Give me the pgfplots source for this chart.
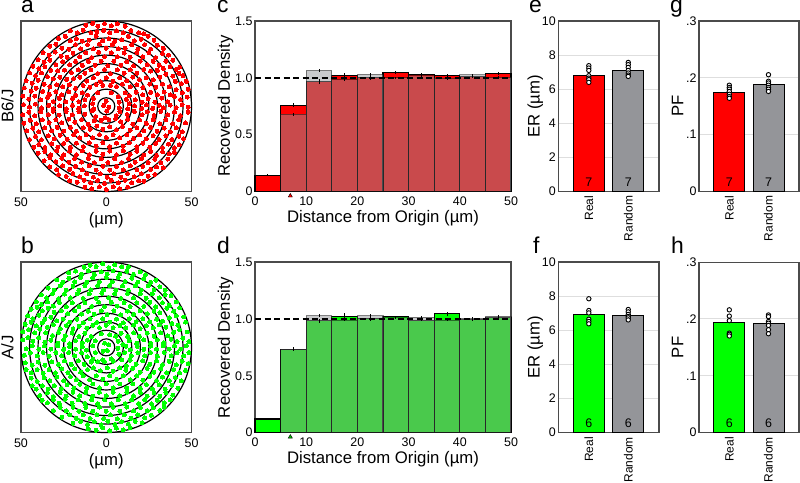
\documentclass[border=0pt]{standalone}
\usepackage{pgfplots}
\pgfplotsset{compat=1.18}
\usepackage{fontspec}
\setmainfont{Liberation Sans}
\definecolor{axgray}{RGB}{75,75,75}
\definecolor{bargray}{RGB}{148,149,153}
\definecolor{puregreen}{RGB}{0,255,0}
\definecolor{gridgray}{RGB}{222,222,222}
\pgfplotsset{
  base/.style={scale only axis, anchor=south west,
    axis line style={axgray,line width=1.2bp},
    major tick length=0pt,
    tick label style={font=\fontsize{12.5}{12.5}\selectfont,text=black},
    /pgf/number format/assume math mode=true,
    label style={font=\fontsize{16.8}{16.8}\selectfont},
  },
  disc/.style={base,width=170.5bp,height=170.5bp,xmin=-50,xmax=50,ymin=-50,ymax=50,
    xtick={-50,0,50},xticklabels={50,0,50},ytick=\empty,
    xticklabel style={yshift=-2.5bp},
    xlabel={(µm)},xlabel style={yshift=1bp},
    ylabel style={yshift=4bp},clip=false,clip mode=global},
  hist/.style={base,width=256bp,height=170.5bp,xmin=0,xmax=50,ymin=0,ymax=1.5,
    xtick={0,10,20,30,40,50},ytick={0,0.5,1,1.5},yticklabels={0,0.5,1.0,1.5},
    xticklabel style={yshift=-1.5bp},yticklabel style={xshift=1bp},
    xlabel={Distance from Origin (µm)},xlabel style={yshift=1.5bp},
    ylabel={Recovered Density},ylabel style={yshift=-5bp},clip=false},
  bars/.style={base,height=170.5bp,xmin=0.226,xmax=2.78,
    xtick={1,2},xticklabels={Real,Random},
    xticklabel style={font=\fontsize{12}{12}\selectfont,rotate=90,anchor=east,yshift=0bp,xshift=-1bp},
    ymajorgrids,grid style={gridgray,line width=1bp},
    yticklabel style={xshift=1bp},clip=false},
  er/.style={bars,width=100.7bp,ymin=0,ymax=10,ytick={0,2,4,6,8,10},ylabel={ER (µm)},ylabel style={yshift=-8bp}},
  pf/.style={bars,width=100bp,ymin=0,ymax=0.3,ytick={0,0.1,0.2,0.3},yticklabels={0,.1,.2,.3},ylabel={PF},ylabel style={yshift=-4bp}},
  bar/.style={ybar,bar width=31bp,bar shift=0pt,draw=black,line width=0.9bp,fill=#1},
  pts/.style={black,only marks,mark=*,mark size=2.2pt,mark options={solid,draw=black,fill=white,line width=0.9bp}},
  dots/.style={#1,only marks,mark=*,mark size=2.0pt,mark options={solid,draw=#1,fill=#1,line width=0pt}},
  grey/.style={ybar interval,fill=bargray,fill opacity=0.5,draw=black,draw opacity=0.45,line width=1bp},
  err/.style={draw=none,no marks,error bars/.cd,y dir=both,y explicit,error mark=none,
    error bar style={draw=black,solid,line width=0.7bp}},
}
\newcommand{\rings}{%
  \draw[black,line width=1.2bp] (axis cs:0,0) circle[radius=5];
  \draw[black,line width=1.2bp] (axis cs:0,0) circle[radius=10];
  \draw[black,line width=1.2bp] (axis cs:0,0) circle[radius=15];
  \draw[black,line width=1.2bp] (axis cs:0,0) circle[radius=20];
  \draw[black,line width=1.2bp] (axis cs:0,0) circle[radius=25];
  \draw[black,line width=1.2bp] (axis cs:0,0) circle[radius=30];
  \draw[black,line width=1.2bp] (axis cs:0,0) circle[radius=35];
  \draw[black,line width=1.2bp] (axis cs:0,0) circle[radius=40];
  \draw[black,line width=1.2bp] (axis cs:0,0) circle[radius=45];
  \draw[black,line width=1.2bp] (axis cs:0,0) circle[radius=50];
}
\newcommand{\panel}[2]{\node[anchor=base west,inner sep=0pt,font=\fontsize{23}{23}\selectfont] at (#1) {#2};}
\begin{document}
\begin{tikzpicture}
\path[use as bounding box] (0,0) rectangle (800bp,483bp);
% ---------- a
\begin{axis}[disc,at={(21bp,291.5bp)},ylabel={B6/J}]
\addplot[dots=red] coordinates {
(0,3)(-1.5,0.5)(1.6,-0.6)(0.2,-2.8)
(-12,47.5)(-8,48.6)(-5,46.9)(-1,48.5)(3,47.2)(6.5,48.4)(11,47)
(-21,44.3)(-17,43)(-13.5,44.6)(-9,43.2)(-5.5,43.8)(-1.5,44.5)(2,43)(6,44.2)(10,43.1)(14.5,44.4)(19,43.2)(22,42.5)
(-28,39.8)(-24,41)(-21,38.4)(-17.5,39.6)(-14,38.2)(-10,38.8)(-6,41)(-2,38.3)(1.5,39.7)(5,38.1)(9,38.9)(13,41)(16.5,38.5)(20.5,39.3)(24.5,41)(28,38.7)
(-33,35.3)(-29.5,36.4)(-26,34)(-22,33.5)(-18,36.2)(-15,33.6)(-11,36.1)(-7.5,33.7)(-4,36.4)(0,34)(3.5,36.2)(7,33.6)(11,34.1)(15,36)(18.5,33.4)(22.5,36.2)(26,33.5)(30,35.8)(33.5,34)
(-37,31.5)(-33.5,30)(-30,31.8)(-26.5,29.4)(-23,28.8)(-19.5,31.2)(-15.5,29)(-12,31.3)(-8.5,28.6)(-4.5,31.6)(-1,29.2)(3,31.4)(6.5,28.9)(10.5,31.2)(14,28.7)(18,31.4)(21.5,29)(25,31.5)(29,28.6)(33,31)(36.5,30)
(-40,27.3)(-36.5,25.8)(-33,27.1)(-29.5,24.4)(-25.5,26.2)(-21.5,24.2)(-18,26.3)(-14,24)(-10.5,26.3)(-6.5,24)(-3,26.4)(1,23.8)(4.5,26.4)(8.5,24.1)(12,26.2)(16,23.7)(20,26.5)(24,24.2)(27.5,26.3)(31,24)(35,26.4)(39,27)
(-43,23.4)(-39.5,22)(-36,23.2)(-32.5,21)(-28.5,20.7)(-24.5,21.2)(-20.5,19.8)(-16.5,21.3)(-12.5,19.4)(-9,21.5)(-5,19.2)(-1,21.6)(2.5,19.2)(6.5,21.4)(10.5,19.3)(14,21.4)(18,19.4)(22,21.6)(26,20.6)(30,21.1)(33.5,22.2)(37.5,23.3)(41,21.6)(43,23)
(-45,19.6)(-41.5,18)(-38,19.5)(-34.5,17.4)(-31,16.2)(-27.2,17)(-23.2,15.8)(-19.2,16.2)(-15.5,17)(-11.5,14.8)(-7.5,16.7)(-3.5,14.5)(0,16.8)(4,14.6)(8,16.7)(12,14.9)(15.5,17.1)(19.5,15.7)(23.5,16.8)(27.5,15.5)(31.5,17)(35,18.8)(39,17.7)(42.5,19.4)(45,18)
(-47,15)(-43.5,13.5)(-40,15.2)(-36.5,13)(-33,11.4)(-29,12.5)(-25.4,11.3)(-21.7,12.6)(-18,10.5)(-13.5,12.2)(-9.6,11.2)(-6,12.8)(-2,12.2)(2.5,12.3)(6,11.6)(9.5,13)(14,11.4)(18,12.6)(21.5,11)(25.5,13)(29,11.2)(33,13)(37,11.5)(40.5,14.6)(44,13.3)(47,14.6)
(-48,10.7)(-44,8.8)(-41,10.6)(-37.3,8.7)(-33.4,7)(-29.5,8.6)(-26,6.6)(-22,8.4)(-18,6.4)(-14,8)(-11,6.5)(-7.5,4.7)(-5,8)(3,8)(7,5.5)(11,7.9)(13.5,6.2)(17.5,8.3)(21.5,6.6)(26,8.2)(30,6.7)(34,8.3)(37.5,6.7)(41,9.8)(44.5,7.8)(48,10)
(-49,6)(-45.5,4.2)(-42,6)(-38.5,3.7)(-34.5,5.2)(-31,2.8)(-27.5,4.6)(-23.7,2.5)(-19.8,4.6)(-16,2.6)(-12.5,3.8)(-8,1.6)(7.6,2.4)(11.8,4)(13.4,1.5)(17,3.8)(21,2.4)(24.5,4.4)(28.5,2.4)(32.5,4.8)(36,2.7)(40,5.8)(43.5,3.9)(47.5,5.4)
(-48.5,1)(-45,-0.5)(-41.5,1.2)(-38,-1)(-33.8,0.5)(-31,-1.6)(-27.3,0.2)(-23.5,-1.5)(-19.8,0.6)(-16.2,-1.2)(-12.8,0.2)(-7.4,-1.5)(7.5,-1)(12.6,-1.6)(16.6,0.3)(20.8,-1.3)(23.6,0.8)(27.2,-1.2)(31.2,0.6)(33.6,-1)(37.5,0.7)(41,-0.8)(44.5,1)(48,-0.5)
(-49,-5)(-45.5,-3.5)(-42,-5.5)(-38.5,-3.2)(-34,-5)(-31.2,-3)(-27.5,-5.2)(-23.5,-3)(-20,-5)(-16,-3.2)(-12.6,-4.7)(-8.2,-2.6)(-6.2,-6)(-0.5,-6.8)(5.8,-5.5)(8,-3.2)(12.2,-4.8)(16.5,-3)(21,-5)(24,-3.2)(28,-5.4)(32,-3)(36,-5)(40,-3.4)(43.5,-5.4)(48,-3.5)
(-48.3,-10)(-44.5,-8.2)(-41,-10.4)(-37.5,-8)(-33.5,-9.6)(-29.5,-8)(-26,-9.8)(-22,-7.5)(-18.5,-9.4)(-14.5,-7.8)(-10.5,-10.6)(-7,-8.6)(-3,-8.3)(1.5,-7.8)(5.5,-7.2)(8.5,-9)(12.5,-7.6)(15.5,-10.5)(19.5,-8)(23.5,-10)(27.5,-8)(31.5,-10.2)(35,-7.8)(39,-10.2)(42.5,-8)(46.5,-9.8)
(-46.5,-14.5)(-43,-12.8)(-39.5,-15)(-36,-12.6)(-32,-14.3)(-28.8,-12.4)(-25,-14.6)(-21,-12.4)(-17.5,-14.6)(-13.5,-12.6)(-9.5,-13.5)(-5.5,-11.6)(-2,-13.5)(2,-12)(6,-13.8)(9.5,-11.8)(14,-14)(18,-12.6)(22,-14.5)(26,-12.4)(29.8,-14.6)(34,-12.8)(37.5,-15)(41,-12.7)(44.5,-15)
(-45,-19.5)(-41.5,-17.6)(-38,-19.7)(-34,-17.4)(-30.5,-19.2)(-27,-17)(-23,-19.4)(-19,-16.8)(-15.5,-18.6)(-11.8,-16.6)(-8,-18.6)(-4,-16.6)(0,-18.3)(4,-16.6)(8,-18.6)(12,-16.8)(16,-18.8)(19.5,-16.8)(23.5,-19)(27.5,-17.2)(31,-19.5)(35,-17.3)(38.5,-19.5)(42.5,-17.6)(45.3,-19)
(-42.5,-24)(-39.5,-22.4)(-36,-24.2)(-32,-22)(-28.5,-24)(-25,-21.8)(-21,-24)(-17.5,-21.6)(-13.5,-23.6)(-10,-21.4)(-6,-23.4)(-2,-21.3)(2,-23.6)(6,-21.6)(10,-23.4)(13.5,-21.4)(18,-23.8)(21.5,-21.6)(25.5,-24)(29,-21.8)(33,-24.2)(36.5,-22.2)(40,-24.4)(42.8,-22.5)
(-40,-27.6)(-36,-26.5)(-32.5,-28.5)(-29,-26.2)(-25,-28.4)(-21.5,-26.3)(-17.5,-28.4)(-14,-26.2)(-10,-28.4)(-6,-26.4)(-2,-28.2)(2,-26.3)(6,-28.4)(10,-26.2)(14,-28.2)(18,-26.4)(22,-28.6)(26,-26.4)(29.5,-28.8)(33,-26.7)(37,-28)(40,-27)
(-36.5,-32)(-33,-30.2)(-29.5,-32.5)(-26,-30.4)(-22,-32.8)(-18.5,-30.6)(-14.5,-32.8)(-10.5,-30.6)(-7,-33)(-3,-30.8)(1,-33)(5,-30.7)(9,-33)(13,-30.6)(17,-32.8)(20.5,-30.7)(24.5,-33)(28.5,-31)(32,-33)(36,-31)
(-33,-35.6)(-29,-37.2)(-25.5,-35)(-21.5,-37)(-18,-35.2)(-14,-37.3)(-10,-35)(-6,-37.4)(-2,-35.2)(2,-37.4)(6,-35.2)(10,-37.3)(14,-35)(18,-37.2)(21.5,-35.3)(26,-37)(29.5,-35.6)(33.5,-36)
(-28,-40)(-23.5,-41.2)(-19.5,-39.4)(-15.5,-41.4)(-11.5,-39.5)(-7.5,-41.6)(-3.5,-39.6)(0.5,-41.7)(4.5,-39.6)(8.5,-41.6)(12.5,-39.4)(16.5,-41.4)(20.5,-39.6)(24.5,-41)(28.5,-40)
(-21.5,-43.7)(-17,-44.5)(-13,-43.3)(-9,-45)(-5,-43.5)(-1,-45.2)(3,-43.4)(7,-45)(11,-43.4)(15,-44.8)(19,-43.6)(22,-44)
(-12.5,-47.4)(-8.5,-48.4)(-4,-47.2)(0,-48.8)(4,-47.3)(8,-48.4)(12.5,-47.4)
};
\rings
\end{axis}
% ---------- b
\begin{axis}[disc,at={(21bp,50.4bp)},ylabel={A/J}]
\addplot[dots=puregreen] coordinates {
(-1,2.5)(1.4,1.6)(0.6,-1.8)(-1.8,-2.2)
(-13,47)(-9.5,48.2)(-6,47.4)(-2,48.9)(1.5,46.8)(5,48.5)(9,47.2)(13,47.3)
(-22,43.8)(-18,44.7)(-14.5,43)(-10.5,44.8)(-7,42.8)(-3,44.3)(0.5,42.9)(4,44.9)(8,43)(12,44.6)(16,42.8)(20,44.3)(23,42.7)
(-29,39.5)(-25.5,38.2)(-22,40.5)(-18.5,38.4)(-15,41)(-11.5,38.2)(-8,40.8)(-4,38.6)(0,41)(3.5,38.4)(7,41)(11,38.6)(15,40.6)(18.5,38.3)(22,40.2)(26,38.2)(29,39.4)
(-34,34.8)(-30.5,33.5)(-27,36)(-23.5,33.6)(-19.5,35.8)(-16,33.4)(-12.5,36.2)(-9,33.7)(-5,36.3)(-1.5,33.8)(2,36.3)(5.5,33.6)(9.5,36)(13,33.5)(17,36.2)(20.5,33.6)(24.5,36)(28,33.8)(31.5,35.5)(34.5,33.6)
(-38,30.8)(-35,29)(-31.5,31.5)(-28,28.6)(-24.5,31.2)(-21,29)(-17,31.5)(-13.5,28.7)(-10,31.4)(-6,28.9)(-2.5,31.7)(1.5,29)(5,31.5)(8.5,28.7)(12.5,31.6)(16,29)(20,31.4)(23.5,28.8)(27,31.5)(31,29)(34.5,31)(38,30.4)
(-41,26.8)(-38,25.2)(-34.5,26.6)(-31,24.2)(-27.5,26.4)(-23.5,23.7)(-20,26.1)(-16,23.8)(-12.5,26.2)(-8.5,24)(-4.5,26.5)(-1,24)(3,26.5)(6.5,24.2)(10.5,26.3)(14,24)(18,26.2)(22,24)(25.5,26.4)(29,23.7)(33,26.2)(37,24.6)(41,26.6)
(-44,22.4)(-40.5,23.5)(-37.5,21.4)(-34,23)(-30.5,20.5)(-26.5,21.4)(-22.5,19.6)(-18.5,21.5)(-14.5,19.5)(-10.5,21.2)(-7,19.4)(-3,21.4)(0.5,19.2)(4.5,21.5)(8.5,19)(12.5,21.3)(16,19.4)(20,21.5)(24,19.6)(28,21.3)(31.5,20.4)(35.5,23)(39.5,21.2)(43,23.2)
(-46,18.6)(-43,16.8)(-39.5,18.8)(-36,16.5)(-32.5,17.6)(-29,15.6)(-25.2,16.6)(-21.5,14.8)(-17.2,16.6)(-13.5,14.5)(-9.5,16.8)(-5.5,14.6)(-2,16.7)(2,14.8)(6,16.6)(10,14.5)(13.5,16.8)(17.5,15)(21.5,16.8)(25.5,15)(29.5,16.5)(33,15.4)(37,17.4)(41,18.6)(45.5,17.8)
(-47.5,13.5)(-44,14.8)(-41,12.6)(-37.5,14.4)(-34.5,11.8)(-31,13.4)(-27,11)(-23.4,12.8)(-19.5,11)(-15.8,12.4)(-11.5,11.3)(-7.8,13)(-4,11.6)(0,13)(4,11.6)(8,12.8)(11.5,11.4)(16,13)(19.8,11)(23.5,12.8)(27.5,11.5)(31,13.2)(35,11.8)(38.5,14)(42,13)(46.5,14.8)
(-49,9.2)(-45.5,10.5)(-42,8.6)(-39,10.6)(-35.5,8.6)(-31.5,7)(-28,8.8)(-24,6.8)(-20,8.4)(-16,6.4)(-12.5,8.2)(-8.8,6.4)(-6.4,3.8)(-3,8)(2,7.4)(5.5,6.5)(8.7,8.2)(12.5,6.5)(16,8.5)(19.5,6.5)(24,8.4)(28,6.6)(32,8.5)(36,6.7)(39.5,8.8)(43,10.4)(47.5,9)
(-49,4.4)(-46,5.8)(-43,3.5)(-39.5,5.5)(-36,3)(-32.5,4.2)(-28.5,2.4)(-25,4.4)(-21.5,2.2)(-18,4)(-14,2.6)(-11,4.2)(-7.8,0.8)(7,3.6)(9.8,1.7)(13.5,3.8)(17.8,2.4)(22,4.4)(26,2.5)(30,4.4)(33.8,2.6)(38,4.8)(41.5,3.4)(45,5.4)(48.5,3.4)
(-47,-0.8)(-43.5,0.8)(-39.5,-1)(-36.2,0.8)(-32.5,-1)(-28.5,0.8)(-25,-1.2)(-21.5,0.6)(-18,-1)(-14,0.4)(-11.6,-1.6)(-6.4,-3)(6.8,-0.6)(11.5,0.6)(14,-1.4)(18.2,0.6)(22,-1.2)(26,0.7)(29.5,-1)(33.5,0.8)(37,-1)(40,0.8)(43.6,-1)(47,0.8)
(-48,-4.6)(-44.5,-3.2)(-40.5,-5)(-37,-3)(-33.5,-5.2)(-29.5,-3)(-26,-5)(-22,-3)(-18.5,-5)(-14.5,-3.2)(-11.2,-5.5)(-7.8,-7)(-2,-7.4)(3,-6.8)(7.4,-4)(10.8,-3)(14.6,-5)(18.6,-3.2)(22.5,-5)(26,-3)(30,-5.2)(34,-3)(38,-5)(41.5,-3.2)(45.5,-5)(48.5,-3)
(-47.5,-9)(-43.5,-10.5)(-40,-8.6)(-36,-10.4)(-32,-8.4)(-28,-10)(-24.5,-8)(-20.5,-10)(-16.5,-8)(-13,-10)(-8.9,-8.6)(-5,-8.3)(-1,-8.3)(4,-8.2)(9,-7.2)(11.7,-10.8)(14,-7.6)(17.5,-9.8)(21.5,-8)(25.5,-10)(29.5,-8)(33,-10.2)(37,-8.2)(41,-10.3)(44.5,-8.2)(48,-9.5)
(-47,-13)(-44,-15)(-40.5,-13)(-37,-15.2)(-33.5,-13)(-29.8,-15)(-26,-12.6)(-22.5,-14.8)(-18.5,-12.6)(-15,-14.6)(-11,-13)(-7.5,-12)(-3.5,-13.8)(0.5,-12)(4,-14)(8,-12)(11.5,-13.4)(15.5,-12.3)(19.8,-14.5)(24,-12.4)(27.8,-14.6)(32,-12.6)(35.5,-15)(39.5,-13)(43,-15)(46.5,-13.5)
(-44,-18)(-40.5,-20)(-36.5,-17.8)(-33,-19.5)(-29,-17.4)(-25,-19.6)(-21,-17.2)(-17.5,-19)(-13.5,-16.8)(-9.8,-19)(-6,-16.8)(-2,-18.6)(2,-16.8)(6,-18.8)(10,-16.8)(14,-19)(18,-16.8)(21.5,-19.2)(25.5,-17)(29.5,-19.4)(33,-17.4)(37,-19.5)(40.5,-17.7)(44,-19.7)
(-43.5,-22.5)(-41,-24.5)(-37.5,-22.6)(-34,-24.6)(-30.5,-22.4)(-26.5,-24.4)(-23,-22)(-19,-24)(-15.5,-21.6)(-11.5,-23.8)(-8,-21.5)(-4,-23.8)(0,-21.4)(4,-23.8)(8,-21.5)(12,-23.7)(15.5,-21.5)(20,-24)(23.5,-21.8)(27,-24.2)(31,-22)(34.5,-24.5)(38.5,-22.3)(42,-24)
(-39,-28.2)(-34.5,-26.7)(-31,-28.8)(-27,-26.4)(-23.5,-28.6)(-19.5,-26.3)(-15.5,-28.4)(-12,-26.4)(-8,-28.6)(-4,-26.3)(0,-28.4)(4,-26.4)(8,-28.4)(12,-26.3)(16,-28.4)(20,-26.4)(24,-28.6)(28,-26.5)(31.5,-28.7)(35,-26.6)(39,-28)
(-37.5,-31)(-34.5,-32.6)(-31,-30.6)(-27.5,-32.8)(-24,-30.4)(-20,-32.8)(-16.5,-30.7)(-12.5,-32.9)(-8.5,-30.7)(-5,-33)(-1,-30.8)(3,-33)(7,-30.8)(11,-33)(15,-30.7)(19,-32.9)(22.5,-30.8)(26.5,-33)(30,-31)(34,-32.6)(37.5,-30.7)
(-31,-37)(-27,-35.2)(-23.5,-37.2)(-19.5,-35.1)(-16,-37.4)(-12,-35.2)(-8,-37.4)(-4,-35)(0,-37.5)(4,-35.2)(8,-37.4)(12,-35)(16,-37.3)(20,-35.2)(24,-37.1)(27.5,-35.4)(31.5,-37)(34,-35)
(-26,-41)(-21.5,-39.6)(-17.5,-41.6)(-13.5,-39.5)(-9.5,-41.7)(-5.5,-39.5)(-1.5,-41.7)(2.5,-39.6)(6.5,-41.8)(10.5,-39.6)(14.5,-41.6)(18.5,-39.6)(22.5,-41.4)(26.5,-39.8)
(-19.5,-44.6)(-15,-43.4)(-11,-45.2)(-7,-43.5)(-3,-45.3)(1,-43.4)(5,-45.2)(9,-43.5)(13,-45)(17,-43.4)(21,-44.2)
(-10.5,-47.8)(-6,-48.6)(-2,-47.3)(2,-48.9)(6,-47.4)(10,-48.4)(14,-47)
};
\rings
\end{axis}
% ---------- c
\begin{axis}[hist,at={(255bp,291.5bp)}]
\addplot[ybar interval,fill=red,draw=black,line width=1.1bp] coordinates {(0,0.144)(5,0.76)(10,0.97)(15,1.02)(20,1.005)(25,1.048)(30,1.03)(35,1.02)(40,1.015)(45,1.04)(50,1.04)};
\addplot[grey] coordinates {(5,0.68)(10,1.065)(15,0.985)(20,1.03)(25,1.0)(30,1.02)(35,0.995)(40,1.025)(45,1.005)(50,1.005)};
\addplot[black,dashed,line width=1.6bp,dash pattern=on 6bp off 3.5bp] coordinates {(0,1)(50,1)};
\addplot[err] coordinates {(2.5,0.144)+-(0,0.012)(7.5,0.76)+-(0,0.02)(12.5,0.97)+-(0,0.02)(17.5,1.02)+-(0,0.025)(22.5,1.005)+-(0,0.02)(27.5,1.048)+-(0,0.012)(32.5,1.03)+-(0,0.012)(37.5,1.02)+-(0,0.012)(42.5,1.015)+-(0,0.015)(47.5,1.04)+-(0,0.012)};
\addplot[err] coordinates {(7.5,0.68)+-(0,0.012)(12.5,1.065)+-(0,0.012)(17.5,0.985)+-(0,0.012)(22.5,1.03)+-(0,0.012)(27.5,1.0)+-(0,0.01)(32.5,1.02)+-(0,0.01)(37.5,0.995)+-(0,0.01)(42.5,1.025)+-(0,0.01)(47.5,1.005)+-(0,0.01)};
\addplot[only marks,mark=triangle*,mark size=2.4pt,mark options={draw=none,fill=red}] coordinates {(6.9,-0.038)};
\end{axis}
% ---------- d
\begin{axis}[hist,at={(255bp,50.4bp)}]
\addplot[ybar interval,fill=puregreen,draw=black,line width=1.1bp] coordinates {(0,0.12)(5,0.734)(10,0.983)(15,1.025)(20,1.004)(25,1.018)(30,0.99)(35,1.045)(40,0.998)(45,1.015)(50,1.015)};
\addplot[grey] coordinates {(5,0.734)(10,1.03)(15,0.99)(20,1.03)(25,1.01)(30,1.015)(35,0.99)(40,1.005)(45,1.025)(50,1.025)};
\addplot[black,dashed,line width=1.6bp,dash pattern=on 6bp off 3.5bp] coordinates {(0,1)(50,1)};
\addplot[err] coordinates {(2.5,0.12)+-(0,0.012)(7.5,0.734)+-(0,0.02)(12.5,0.983)+-(0,0.02)(17.5,1.025)+-(0,0.025)(22.5,1.004)+-(0,0.02)(27.5,1.018)+-(0,0.012)(32.5,0.99)+-(0,0.012)(37.5,1.045)+-(0,0.02)(42.5,0.998)+-(0,0.012)(47.5,1.015)+-(0,0.012)};
\addplot[err] coordinates {(12.5,1.03)+-(0,0.012)(17.5,0.99)+-(0,0.012)(22.5,1.03)+-(0,0.012)(27.5,1.01)+-(0,0.01)(32.5,1.015)+-(0,0.01)(37.5,0.99)+-(0,0.01)(42.5,1.005)+-(0,0.01)(47.5,1.025)+-(0,0.01)};
\addplot[only marks,mark=triangle*,mark size=2.4pt,mark options={draw=none,fill=green!75!black}] coordinates {(6.9,-0.038)};
\end{axis}
% ---------- e
\begin{axis}[er,at={(558.3bp,291.5bp)}]
\addplot[bar=red] coordinates {(1,6.83)};
\addplot[bar=bargray] coordinates {(2,7.12)};
\addplot[pts] coordinates {(1,7.38)(1,7.24)(1,7.10)(1,6.79)(1,6.65)(1,6.56)(1,6.40)};
\addplot[pts] coordinates {(2,7.57)(2,7.44)(2,7.28)(2,7.10)(2,6.95)(2,6.83)(2,6.75)};
\node[font=\fontsize{12.5}{12.5}\selectfont] at (axis cs:1,0.55) {7};
\node[font=\fontsize{12.5}{12.5}\selectfont] at (axis cs:2,0.55) {7};
\end{axis}
% ---------- f
\begin{axis}[er,at={(558.3bp,50.4bp)}]
\addplot[bar=puregreen] coordinates {(1,6.93)};
\addplot[bar=bargray] coordinates {(2,6.89)};
\addplot[pts] coordinates {(1,7.85)(1,7.16)(1,7.02)(1,6.65)(1,6.52)(1,6.38)};
\addplot[pts] coordinates {(2,7.22)(2,7.08)(2,6.93)(2,6.81)(2,6.73)(2,6.61)};
\node[font=\fontsize{12.5}{12.5}\selectfont] at (axis cs:1,0.55) {6};
\node[font=\fontsize{12.5}{12.5}\selectfont] at (axis cs:2,0.55) {6};
\end{axis}
% ---------- g
\begin{axis}[pf,at={(699bp,291.5bp)}]
\addplot[bar=red] coordinates {(1,0.174)};
\addplot[bar=bargray] coordinates {(2,0.189)};
\addplot[pts] coordinates {(1,0.187)(1,0.183)(1,0.18)(1,0.176)(1,0.171)(1,0.167)(1,0.164)};
\addplot[pts] coordinates {(2,0.2055)(2,0.194)(2,0.191)(2,0.187)(2,0.183)(2,0.18)(2,0.176)};
\node[font=\fontsize{12.5}{12.5}\selectfont] at (axis cs:1,0.0165) {7};
\node[font=\fontsize{12.5}{12.5}\selectfont] at (axis cs:2,0.0165) {7};
\end{axis}
% ---------- h
\begin{axis}[pf,at={(699bp,50.4bp)}]
\addplot[bar=puregreen] coordinates {(1,0.194)};
\addplot[bar=bargray] coordinates {(2,0.1925)};
\addplot[pts] coordinates {(1,0.216)(1,0.205)(1,0.197)(1,0.175)(1,0.173)(1,0.170)};
\addplot[pts] coordinates {(2,0.207)(2,0.204)(2,0.1955)(2,0.1925)(2,0.1885)(2,0.181)(2,0.174)};
\node[font=\fontsize{12.5}{12.5}\selectfont] at (axis cs:1,0.0165) {6};
\node[font=\fontsize{12.5}{12.5}\selectfont] at (axis cs:2,0.0165) {6};
\end{axis}
% panel letters
\panel{21bp,470bp}{a}
\panel{21bp,229bp}{b}
\panel{217bp,470bp}{c}
\panel{217bp,229bp}{d}
\panel{529bp,470bp}{e}
\panel{533bp,229bp}{f}
\panel{670bp,470bp}{g}
\panel{671bp,229bp}{h}
\end{tikzpicture}
\end{document}
